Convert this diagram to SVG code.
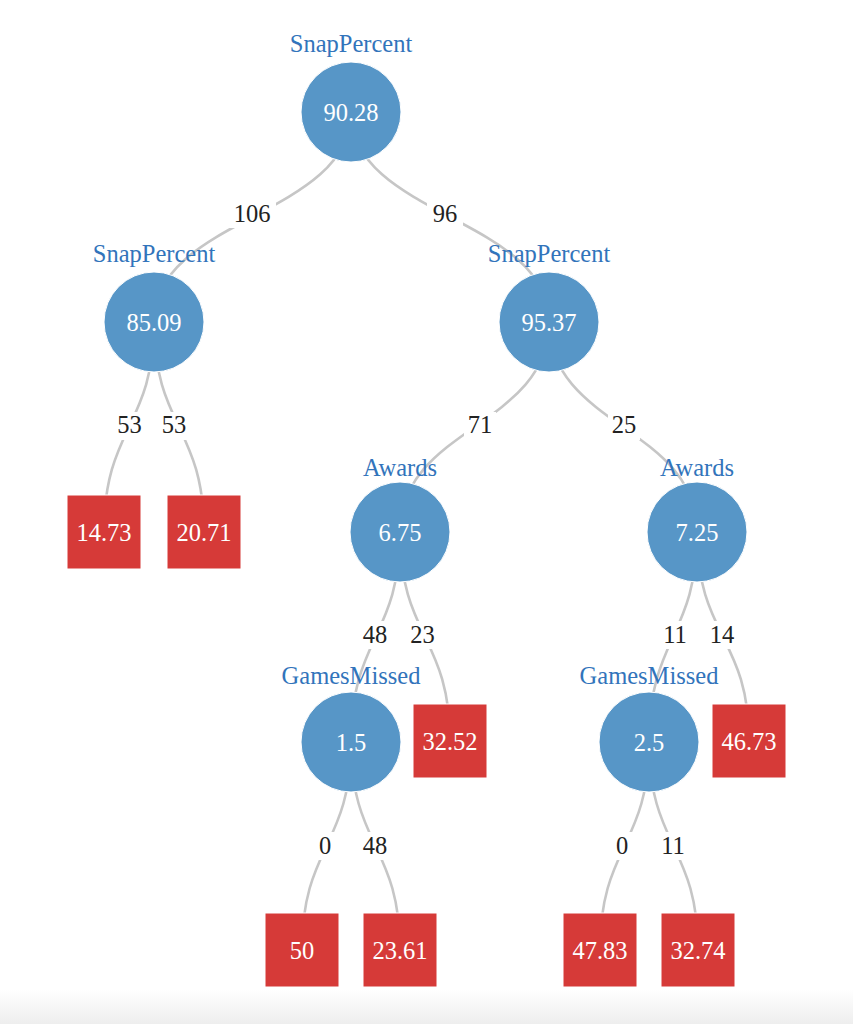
<svg xmlns="http://www.w3.org/2000/svg" width="853" height="1024" viewBox="0 0 853 1024">
<defs>
<linearGradient id="shade" x1="0" y1="0" x2="0" y2="1">
<stop offset="0" stop-color="#ffffff"/>
<stop offset="1" stop-color="#eeeeee"/>
</linearGradient>
<style>
.link{fill:none;stroke:#c6c6c6;stroke-width:2.6}
.elbg{fill:#ffffff}
.el{font-family:"Liberation Serif","Times New Roman",serif;font-size:24.5px;fill:#222222;text-anchor:middle}
.nc{fill:#5796c7;stroke:#ffffff;stroke-width:1}
.leaf{fill:#d63a38;stroke:#ffffff;stroke-width:1}
.nl{font-family:"Liberation Serif","Times New Roman",serif;font-size:24.5px;fill:#3274bb;text-anchor:middle}
.nv{font-family:"Liberation Serif","Times New Roman",serif;font-size:24.5px;fill:#ffffff;text-anchor:middle}
</style>
</defs>
<rect x="0" y="0" width="853" height="1024" fill="#ffffff"/>
<rect x="0" y="990" width="853" height="34" fill="url(#shade)"/>
<g id="connectors">
<path class="link" d="M351,112 C351,217 154,217 154,322"/>
<path class="link" d="M351,112 C351,217 549,217 549,322"/>
<path class="link" d="M154,322 C154,427 104,427 104,532"/>
<path class="link" d="M154,322 C154,427 204,427 204,532"/>
<path class="link" d="M549,322 C549,427 400,427 400,532"/>
<path class="link" d="M549,322 C549,427 697,427 697,532"/>
<path class="link" d="M400,532 C400,637 351,637 351,742"/>
<path class="link" d="M400,532 C400,637 450,637 450,741"/>
<path class="link" d="M697,532 C697,637 649,637 649,742"/>
<path class="link" d="M697,532 C697,637 749,637 749,741"/>
<path class="link" d="M351,742 C351,846 302,846 302,950"/>
<path class="link" d="M351,742 C351,846 400,846 400,950"/>
<path class="link" d="M649,742 C649,846 600,846 600,950"/>
<path class="link" d="M649,742 C649,846 698,846 698,950"/>
<rect class="elbg" x="228" y="200" width="48" height="28"/>
<text class="el" x="252" y="222">106</text>
<rect class="elbg" x="427" y="200" width="36" height="28"/>
<text class="el" x="445" y="222">96</text>
<rect class="elbg" x="114" y="412" width="31" height="28"/>
<text class="el" x="129.5" y="433">53</text>
<rect class="elbg" x="159" y="412" width="31" height="28"/>
<text class="el" x="174" y="433">53</text>
<rect class="elbg" x="464" y="412" width="32" height="28"/>
<text class="el" x="480" y="433">71</text>
<rect class="elbg" x="608" y="412" width="32" height="28"/>
<text class="el" x="624" y="433">25</text>
<rect class="elbg" x="359" y="621" width="32" height="28"/>
<text class="el" x="375" y="643">48</text>
<rect class="elbg" x="406" y="621" width="33" height="28"/>
<text class="el" x="422.5" y="643">23</text>
<rect class="elbg" x="659" y="621" width="32" height="28"/>
<text class="el" x="675" y="643">11</text>
<rect class="elbg" x="706" y="621" width="32" height="28"/>
<text class="el" x="722" y="643">14</text>
<rect class="elbg" x="313" y="832" width="24" height="28"/>
<text class="el" x="325" y="854">0</text>
<rect class="elbg" x="359" y="832" width="32" height="28"/>
<text class="el" x="375" y="854">48</text>
<rect class="elbg" x="610" y="832" width="24" height="28"/>
<text class="el" x="622" y="854">0</text>
<rect class="elbg" x="657" y="832" width="32" height="28"/>
<text class="el" x="673" y="854">11</text>
</g>
<g id="n0"><circle class="nc" cx="351" cy="112" r="50"/><text class="nl" x="351" y="52">SnapPercent</text><text class="nv" x="351" y="121">90.28</text></g>
<g id="n1"><circle class="nc" cx="154" cy="322" r="50"/><text class="nl" x="154" y="262">SnapPercent</text><text class="nv" x="154" y="331">85.09</text></g>
<g id="n2"><circle class="nc" cx="549" cy="322" r="50"/><text class="nl" x="549" y="262">SnapPercent</text><text class="nv" x="549" y="331">95.37</text></g>
<g id="n3"><rect class="leaf" x="67" y="495" width="74" height="74"/><text class="nv" x="104" y="541">14.73</text></g>
<g id="n4"><rect class="leaf" x="167" y="495" width="74" height="74"/><text class="nv" x="204" y="541">20.71</text></g>
<g id="n5"><circle class="nc" cx="400" cy="532" r="50"/><text class="nl" x="400" y="476">Awards</text><text class="nv" x="400" y="541">6.75</text></g>
<g id="n6"><circle class="nc" cx="697" cy="532" r="50"/><text class="nl" x="697" y="476">Awards</text><text class="nv" x="697" y="541">7.25</text></g>
<g id="n7"><circle class="nc" cx="351" cy="742" r="50"/><text class="nl" x="351" y="684">GamesMissed</text><text class="nv" x="351" y="751">1.5</text></g>
<g id="n8"><rect class="leaf" x="413" y="704" width="74" height="74"/><text class="nv" x="450" y="750">32.52</text></g>
<g id="n9"><circle class="nc" cx="649" cy="742" r="50"/><text class="nl" x="649" y="684">GamesMissed</text><text class="nv" x="649" y="751">2.5</text></g>
<g id="n10"><rect class="leaf" x="712" y="704" width="74" height="74"/><text class="nv" x="749" y="750">46.73</text></g>
<g id="n11"><rect class="leaf" x="265" y="913" width="74" height="74"/><text class="nv" x="302" y="959">50</text></g>
<g id="n12"><rect class="leaf" x="363" y="913" width="74" height="74"/><text class="nv" x="400" y="959">23.61</text></g>
<g id="n13"><rect class="leaf" x="563" y="913" width="74" height="74"/><text class="nv" x="600" y="959">47.83</text></g>
<g id="n14"><rect class="leaf" x="661" y="913" width="74" height="74"/><text class="nv" x="698" y="959">32.74</text></g>
</svg>
